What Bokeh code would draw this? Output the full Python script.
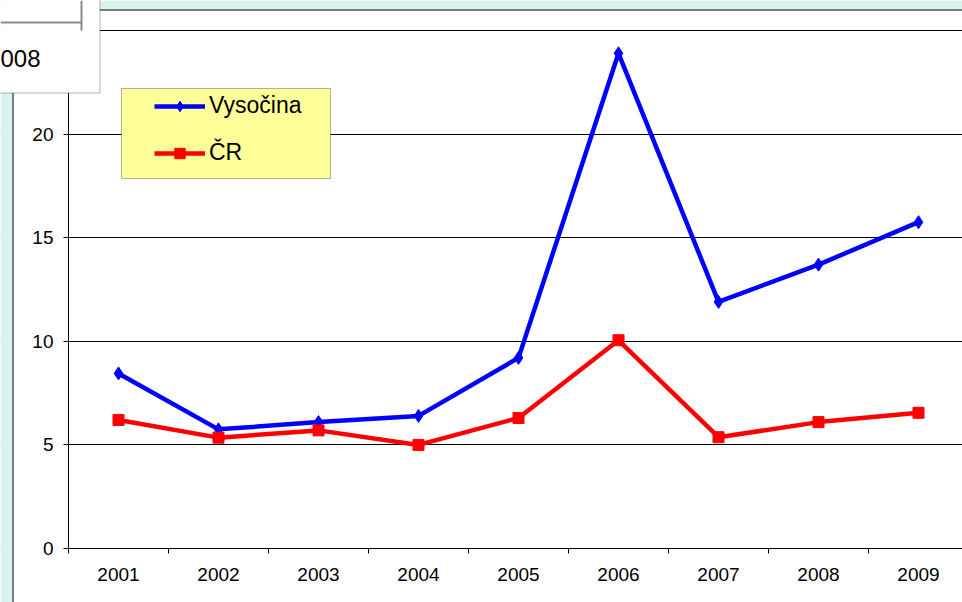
from bokeh.plotting import figure
from bokeh.models import (Range1d, FixedTicker, Legend, LegendItem, BoxAnnotation, Label,
                          LinearAxis, Grid)
from bokeh.embed import file_html
from bokeh.resources import INLINE

# ---- data ----
years = [2001, 2002, 2003, 2004, 2005, 2006, 2007, 2008, 2009]
year_labels = ["2001", "2002", "2003", "2004", "2005", "2006", "2007", "2008", "2009"]
vysocina = [8.45, 5.75, 6.1, 6.4, 9.2, 23.9, 11.9, 13.7, 15.75]
cr = [6.2, 5.35, 5.7, 5.0, 6.3, 10.05, 5.37, 6.1, 6.55]
y_ticks = [0, 5, 10, 15, 20, 25]
title_fragment = "008"

FONT = "Liberation Sans"
CYAN = "#DCF4F0"
W, H = 962, 602

# frame covers the whole canvas; axes are fixed inside it
PX_X = 100.0            # px per year
PX_Y = 518.0 / 25.0     # px per unit
X0_PX, Y0_PX = 68, 548  # pixel position of (2000.5, 0)
x_lo = 2000.5 - X0_PX / PX_X
x_hi = 2000.5 + (W - X0_PX) / PX_X
y_lo = -(H - Y0_PX) / PX_Y
y_hi = Y0_PX / PX_Y

p = figure(width=W, height=H, output_backend="svg", toolbar_location=None,
           x_range=Range1d(x_lo, x_hi), y_range=Range1d(y_lo, y_hi),
           x_axis_location=None, y_axis_location=None,
           min_border=0, min_border_left=0, min_border_right=0,
           min_border_top=0, min_border_bottom=0,
           background_fill_color="white", border_fill_color="white")
p.outline_line_color = None
p.xgrid.visible = False
p.ygrid.visible = False

# grid
grid = Grid(dimension=1, ticker=FixedTicker(ticks=y_ticks),
            grid_line_color="black", grid_line_width=1)
p.add_layout(grid)

def box(l, r, t, b, fill, line=None, lw=1, level="overlay"):
    ba = BoxAnnotation(left=l, right=r, top=t, bottom=b,
                       left_units="canvas", right_units="canvas",
                       top_units="canvas", bottom_units="canvas",
                       fill_color=fill, fill_alpha=1.0,
                       line_color=line, line_width=lw, level=level)
    p.add_layout(ba)
    return ba

# keep grid lines from running left of the value axis
box(0, X0_PX, 0, H, "white", level="underlay")

# axes
xa = LinearAxis(fixed_location=0, bounds=(2000.5, x_hi))
xa.ticker = FixedTicker(ticks=years, minor_ticks=[y - 0.5 for y in years])
xa.major_label_overrides = {y: l for y, l in zip(years, year_labels)}
xa.major_tick_line_color = None
xa.major_tick_out = 5
xa.major_tick_in = 0
xa.minor_tick_line_color = "black"
xa.minor_tick_out = 5
xa.minor_tick_in = 0
xa.major_label_standoff = 14
xa.axis_line_color = "black"
xa.major_label_text_font = FONT
xa.major_label_text_font_size = "19px"
xa.major_label_text_color = "black"
p.add_layout(xa, "below")

ya = LinearAxis(fixed_location=2000.5, bounds=(0, 25))
ya.ticker = FixedTicker(ticks=y_ticks)
ya.major_tick_out = 5
ya.major_tick_in = 0
ya.minor_tick_line_color = None
ya.major_label_standoff = 10
ya.axis_line_color = "black"
ya.major_label_text_font = FONT
ya.major_label_text_font_size = "19px"
ya.major_label_text_color = "black"
p.add_layout(ya, "left")

# series
l1 = p.line(years, vysocina, line_width=4.5, color="#0000FF")
s1 = p.scatter(years, vysocina, marker="diamond", size=13, color="#0000FF")
l2 = p.line(years, cr, line_width=4.5, color="#FF0000")
s2 = p.scatter(years, cr, marker="square", size=11, color="#FF0000")

# decorations (canvas pixel units)
box(0, 12, 0, H, CYAN)
box(0, W, 0, 9, CYAN)
box(12, 13, 92, H, "black")
box(99, W, 9, 10, "black")
# top-left title box
box(-2, 99.5, -2, 92.5, "white", line="black", lw=1)
box(0, 81, 21, 23, "#8A8A8A")
box(80, 82, 0, 30, "#8A8A8A")
# legend background
box(121, 330, 88, 178, "#FFFF99", line="black", lw=1)

lab = Label(x=0, y=58, x_units="canvas", y_units="canvas", text=title_fragment,
            text_font=FONT, text_font_size="24px", text_color="black",
            text_baseline="middle", text_align="left", level="overlay")
p.add_layout(lab)

legend = Legend(items=[LegendItem(label="Vysočina", renderers=[l1, s1]),
                       LegendItem(label="ČR", renderers=[l2, s2])],
                location=(154, 436), orientation="vertical",
                padding=0, margin=0, spacing=20,
                glyph_width=51, glyph_height=26, label_height=26,
                label_standoff=4, background_fill_alpha=0,
                border_line_color=None,
                label_text_font=FONT, label_text_font_size="23px",
                label_text_color="black")
legend.level = "overlay"
p.add_layout(legend, "center")

open("out.html", "w").write(file_html(p, INLINE))
